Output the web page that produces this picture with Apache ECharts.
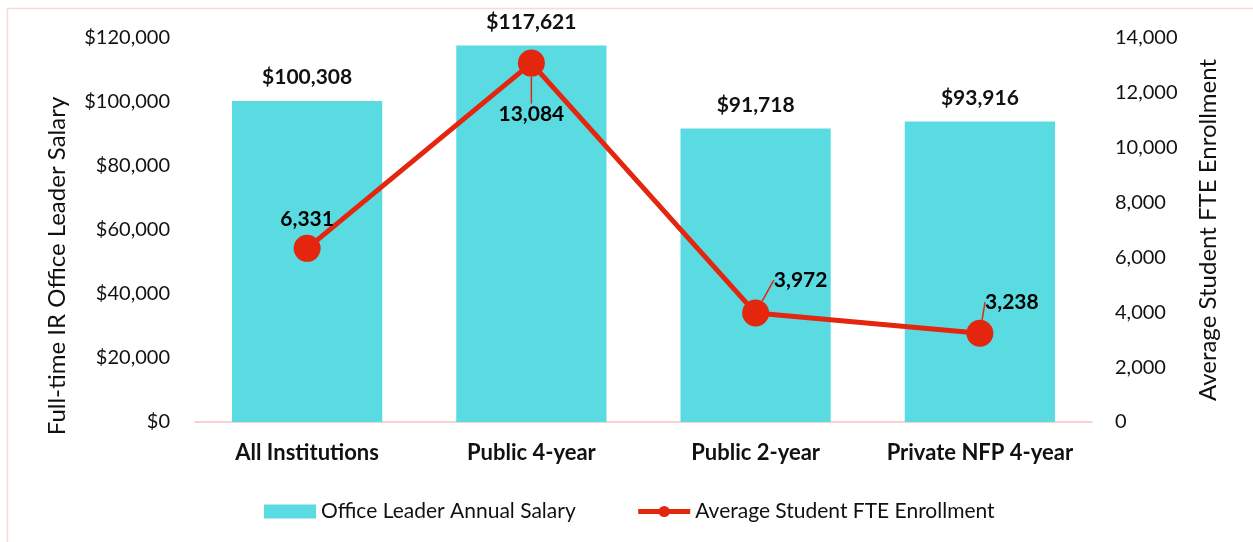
<!DOCTYPE html>
<html><head><meta charset="utf-8">
<script src="https://cdn.jsdelivr.net/npm/echarts@6/dist/echarts.min.js"></script>
<style>html,body{margin:0;padding:0;background:#fff}#c{width:1253px;height:542px}</style>
</head><body><div id="c"></div>
<script>
const categories = ['All Institutions', 'Public 4-year', 'Public 2-year', 'Private NFP 4-year'];
const salary = [100308, 117621, 91718, 93916];
const enrollment = [6331, 13084, 3972, 3238];

const FONT = 'Lato, "Noto Sans", sans-serif';
const fmt = v => v.toLocaleString('en-US');
// label placement (offsets) for the enrollment line labels
const lineLabelPos = [
  {dx: 0, dy: 0, line: false},
  {dx: 0, dy: 80, line: true},
  {dx: 45, dy: -4, line: true},
  {dx: 32, dy: -2, line: true}
];
const lineData = enrollment.map((v, i) => ({
  value: v,
  labelLine: {show: lineLabelPos[i].line, length2: 0, lineStyle: {color: '#e3260d', width: 1.5}}
}));

const chart = echarts.init(document.getElementById('c'), null, {renderer: 'canvas'});
chart.setOption({
  animation: false,
  textStyle: {fontFamily: FONT},
  graphic: [{type: 'rect', shape: {x: 7.5, y: 8.5, width: 1260, height: 560}, style: {fill: 'none', stroke: '#fbd9d4', lineWidth: 1.5}, silent: true, z: -10}],
  grid: {left: 195, right: 161, top: 38, bottom: 120},
  legend: {
    top: 496, left: 259, itemGap: 60, itemWidth: 52, itemHeight: 14,
    textStyle: {fontSize: 21, color: '#111', fontFamily: FONT},
    data: [
      {name: 'Office Leader Annual Salary', icon: 'rect'},
      {name: 'Average Student FTE Enrollment', lineStyle: {width: 5}}
    ]
  },
  xAxis: {
    type: 'category', data: categories,
    axisTick: {show: false},
    axisLine: {lineStyle: {color: '#f8d3ce', width: 2}},
    axisLabel: {color: '#111', fontSize: 22, fontWeight: 'bold', margin: 20, interval: 0, fontFamily: FONT}
  },
  yAxis: [{
    type: 'value', min: 0, max: 120000, interval: 20000,
    name: 'Full-time IR Office Leader Salary', nameLocation: 'middle', nameGap: 126, nameRotate: 90,
    nameTextStyle: {fontSize: 24, color: '#111', fontFamily: FONT, padding: [0, 72, 0, 0]},
    splitLine: {show: false}, axisLine: {show: false}, axisTick: {show: false},
    axisLabel: {color: '#111', fontSize: 20, margin: 25, formatter: v => '$' + fmt(v), fontFamily: FONT}
  }, {
    type: 'value', min: 0, max: 14000, interval: 2000, position: 'right',
    name: 'Average Student FTE Enrollment', nameLocation: 'middle', nameGap: 104, nameRotate: 90,
    nameTextStyle: {fontSize: 24, color: '#111', fontFamily: FONT},
    splitLine: {show: false}, axisLine: {show: false}, axisTick: {show: false},
    axisLabel: {color: '#111', fontSize: 20, margin: 23, formatter: v => fmt(v), fontFamily: FONT}
  }],
  series: [{
    name: 'Office Leader Annual Salary', type: 'bar', data: salary,
    barCategoryGap: '33%',
    itemStyle: {color: '#5adbe2'},
    label: {show: true, position: 'top', distance: 13, fontSize: 21, fontWeight: 'bold', color: '#111', formatter: p => '$' + fmt(p.value), fontFamily: FONT}
  }, {
    name: 'Average Student FTE Enrollment', type: 'line', yAxisIndex: 1, data: lineData,
    symbol: 'circle', symbolSize: 27,
    lineStyle: {color: '#e3260d', width: 5},
    itemStyle: {color: '#e3260d'},
    z: 3,
    label: {show: true, position: 'top', fontSize: 21, fontWeight: 'bold', color: '#000', textBorderWidth: 0, opacity: 1, distance: 5, formatter: p => fmt(p.value), fontFamily: FONT},
    labelLayout: p => ({dx: lineLabelPos[p.dataIndex].dx, dy: lineLabelPos[p.dataIndex].dy})
  }]
});
</script></body></html>
